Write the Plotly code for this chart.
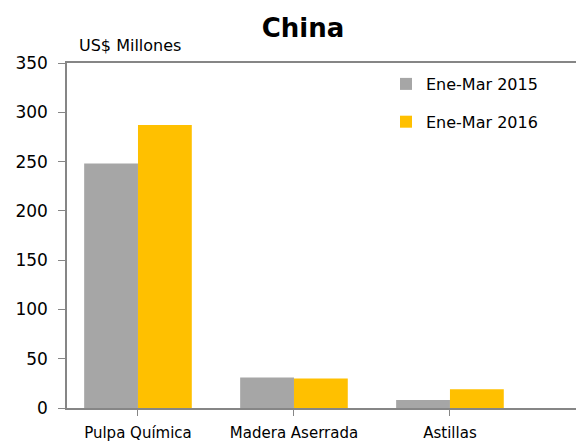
import plotly.graph_objects as go

categories = ["Pulpa Química", "Madera Aserrada", "Astillas"]
series_names = ["Ene-Mar 2015", "Ene-Mar 2016"]
values_2015 = [248, 31, 8]
values_2016 = [287, 30, 19]
y_ticks = [0, 50, 100, 150, 200, 250, 300, 350]

colors = ["#A6A6A6", "#FFC000"]
FONT = "DejaVu Sans"

fig = go.Figure()
for i, (name, vals) in enumerate(zip(series_names, [values_2015, values_2016])):
    fig.add_trace(go.Bar(
        x=list(range(len(categories))), y=vals, name=name,
        marker=dict(color=colors[i], line=dict(width=0)),
        legendgroup=name,
    ))

fig.update_layout(
    width=576, height=442,
    margin=dict(l=67, r=0, t=63, b=34),
    paper_bgcolor="white", plot_bgcolor="white",
    barmode="group", bargap=0.31, bargroupgap=0,
    font=dict(family=FONT, color="#000000"),
    title=dict(text="<b>China</b>", x=303/576, xanchor="center", y=1-28/442, yanchor="middle",
               font=dict(size=26, family=FONT, color="#000000")),
    showlegend=True,
    legend=dict(x=(386-67)/509, y=1-(67-63)/345, xanchor="left", yanchor="top",
                bgcolor="rgba(0,0,0,0)", font=dict(size=16, family=FONT),
                tracegroupgap=14, itemwidth=30),
    xaxis=dict(
        range=[-0.455, 2.808], tickmode="array", tickvals=[0, 1, 2], ticktext=categories,
        tickson="boundaries", ticks="outside", ticklen=6, tickcolor="#868686",
        showline=True, linecolor="#868686", linewidth=1.5, mirror=True,
        showgrid=False, zeroline=False, tickfont=dict(size=15, family=FONT),
        ticklabelstandoff=4,
    ),
    yaxis=dict(
        range=[0, 350], tickmode="array", tickvals=y_ticks,
        ticks="outside", ticklen=7, tickcolor="#868686",
        showline=True, linecolor="#868686", linewidth=1.5,
        showgrid=False, zeroline=False, tickfont=dict(size=17, family=FONT),
        ticklabelstandoff=7,
    ),
    annotations=[dict(text="US$ Millones", x=(130-67)/509, y=(408-45)/345, xref="paper", yref="paper",
                      xanchor="center", yanchor="middle", showarrow=False,
                      font=dict(size=16, family=FONT, color="#000000"))],
)

fig.write_html("out.html", config={"displayModeBar": False},
               post_script="document.body.style.margin='0px';document.body.style.padding='0px';")
